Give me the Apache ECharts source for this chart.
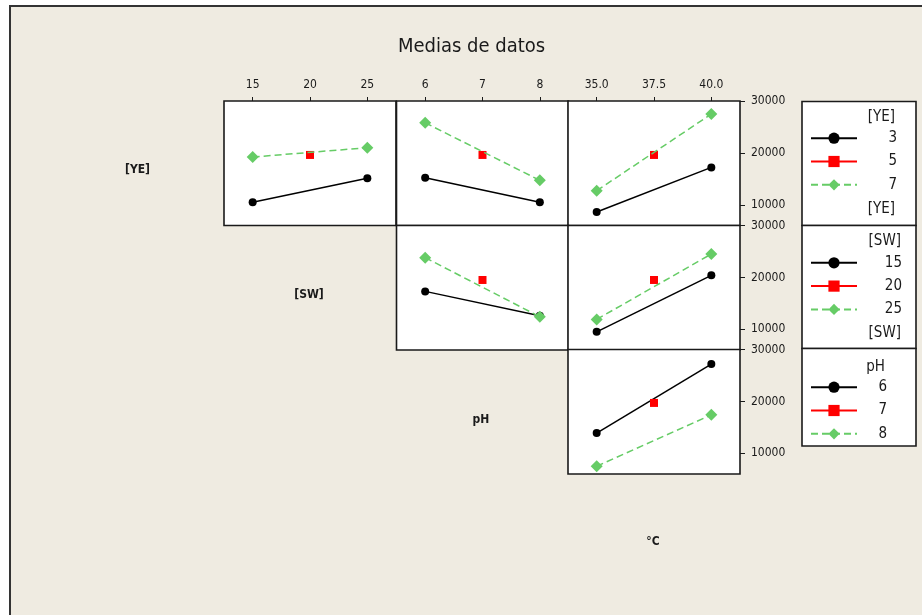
<!DOCTYPE html>
<html>
<head>
<meta charset="utf-8">
<script src="https://cdn.jsdelivr.net/npm/echarts@6/dist/echarts.min.js"></script>
<style>
  html, body { margin: 0; padding: 0; background: #ffffff; }
  #chart { width: 922px; height: 615px; }
</style>
</head>
<body>
<div id="chart"></div>
<script>
// Factor levels (x categories and trace levels)
const swLevels = ['15', '20', '25'];
const phLevels = ['6', '7', '8'];
const tempLevels = ['35.0', '37.5', '40.0'];
const yeLevels = ['3', '5', '7'];
const yTickValues = [10000, 20000, 30000];

// Mean response at low / centre / high of the x factor (null = no run there)
// [YE] traced over [SW]
const yeSw3 = [10500, null, 15100];
const yeSw5 = [null, 19600, null];
const yeSw7 = [19200, null, 21000];
// [YE] traced over pH
const yePh3 = [15200, null, 10500];
const yePh5 = [null, 19600, null];
const yePh7 = [25800, null, 14700];
// [YE] traced over °C
const yeT3 = [8600, null, 17200];
const yeT5 = [null, 19600, null];
const yeT7 = [12700, null, 27500];
// [SW] traced over pH
const swPh15 = [17300, null, 12600];
const swPh20 = [null, 19500, null];
const swPh25 = [23800, null, 12400];
// [SW] traced over °C
const swT15 = [9500, null, 20400];
const swT20 = [null, 19500, null];
const swT25 = [11900, null, 24500];
// pH traced over °C
const phT6 = [13900, null, 27200];
const phT7 = [null, 19700, null];
const phT8 = [7500, null, 17400];

const FONT = 'Tahoma, "DejaVu Sans Condensed", "DejaVu Sans", sans-serif';
const BG = '#efebe1';
const INK = '#1a1a1a';

// low / centre / high trace styles
const traceStyles = [
  { symbol: 'circle', symbolSize: 8, color: '#000000', dash: 'solid' },
  { symbol: 'rect', symbolSize: 8, color: '#ff0000', dash: 'solid' },
  { symbol: 'diamond', symbolSize: 12, color: '#66cc66', dash: [7, 4] }
];

const panels = [
  { row: 0, col: 0, cats: swLevels,   trace: '[YE]', levels: yeLevels, data: [yeSw3, yeSw5, yeSw7] },
  { row: 0, col: 1, cats: phLevels,   trace: '[YE]', levels: yeLevels, data: [yePh3, yePh5, yePh7] },
  { row: 0, col: 2, cats: tempLevels, trace: '[YE]', levels: yeLevels, data: [yeT3, yeT5, yeT7] },
  { row: 1, col: 1, cats: phLevels,   trace: '[SW]', levels: swLevels, data: [swPh15, swPh20, swPh25] },
  { row: 1, col: 2, cats: tempLevels, trace: '[SW]', levels: swLevels, data: [swT15, swT20, swT25] },
  { row: 2, col: 2, cats: tempLevels, trace: 'pH',   levels: phLevels, data: [phT6, phT7, phT8] }
];

const colLeft = [224, 396.5, 568];
const colWidth = 172;
const rowTop = [101, 225.5, 349.5];
const rowHeight = 124.5;

const grids = [], xAxes = [], yAxes = [], series = [];
panels.forEach((p, i) => {
  grids.push({
    left: colLeft[p.col], top: rowTop[p.row], width: colWidth, height: rowHeight,
    show: true, backgroundColor: '#ffffff', borderColor: INK, borderWidth: 1.6
  });
  const topRow = p.row === 0;
  xAxes.push({
    gridIndex: i, type: 'category', data: p.cats, position: 'top', boundaryGap: true,
    axisLine: { show: false },
    axisTick: { show: topRow, alignWithLabel: true, length: 4, lineStyle: { color: INK, width: 1 } },
    axisLabel: { show: topRow, margin: 10, fontSize: 12, color: INK, fontFamily: FONT },
    splitLine: { show: false }
  });
  const rightCol = p.col === 2;
  yAxes.push({
    gridIndex: i, type: 'value', min: 6000, max: 30000, position: 'right',
    axisLine: { show: false },
    axisTick: { show: rightCol, length: 5, customValues: yTickValues, lineStyle: { color: INK, width: 1 } },
    axisLabel: { show: rightCol, customValues: yTickValues, margin: 11, fontSize: 12, color: INK, fontFamily: FONT,
      formatter: v => String(v) },
    splitLine: { show: false }
  });
  p.data.forEach((vals, k) => {
    const s = traceStyles[k];
    series.push({
      type: 'line', name: p.trace + ' ' + p.levels[k],
      xAxisIndex: i, yAxisIndex: i,
      data: vals.map(v => (v === null ? '-' : v)),
      connectNulls: true,
      symbol: s.symbol, symbolSize: s.symbolSize, showSymbol: true,
      itemStyle: { color: s.color },
      lineStyle: { color: s.color, width: 1.5, type: s.dash },
      emphasis: { disabled: true },
      z: 2 + k
    });
  });
});

// legend boxes: trace name, line keys, trace name again
const legendBoxes = [
  { trace: '[YE]', levels: yeLevels, top: 101.5, height: 124, head: 116.7, first: 137.7, foot: 209.3, textRight: 896, titleRight: 895 },
  { trace: '[SW]', levels: swLevels, top: 225.5, height: 123, head: 241, first: 262.3, foot: 332.7, textRight: 901, titleRight: 901 },
  { trace: 'pH',   levels: phLevels, top: 348.5, height: 97.5, head: 366.7, first: 386.7, foot: null, textRight: 886, titleRight: 885 }
];

const legendItemH = 14;
const legendGap = 8.3;
const legends = legendBoxes.map(b => ({
  orient: 'vertical', left: 810, top: b.first - legendItemH / 2,
  itemWidth: 46, itemHeight: legendItemH, itemGap: legendGap, padding: 0,
  selectedMode: false, z: 10,
  lineStyle: { width: 2 },
  data: b.levels.map(l => b.trace + ' ' + l),
  formatter: name => '{v|' + name.split(' ')[1] + '}',
  textStyle: {
    rich: { v: { width: b.textRight - 861, align: 'right', fontSize: 15, fontFamily: FONT, color: INK } }
  }
}));

const labelStyle = { align: 'center', verticalAlign: 'middle', fontSize: 12, fontWeight: 'bold', fontFamily: FONT, fill: INK };
const graphics = [
  // outer frame
  { type: 'rect', z: -100, shape: { x: 10, y: 6, width: 940, height: 640 },
    style: { fill: BG, stroke: '#333333', lineWidth: 2 } },
  // title
  { type: 'text', x: 471.5, y: 47, style: { text: 'Medias de datos', align: 'center', verticalAlign: 'middle', fontSize: 20, fontFamily: FONT, fill: INK } },
  // factor names on the diagonal
  { type: 'text', x: 137.5, y: 170, style: Object.assign({ text: '[YE]' }, labelStyle) },
  { type: 'text', x: 309, y: 295, style: Object.assign({ text: '[SW]' }, labelStyle) },
  { type: 'text', x: 481, y: 420, style: Object.assign({ text: 'pH' }, labelStyle) },
  { type: 'text', x: 653, y: 542, style: Object.assign({ text: '°C' }, labelStyle) }
];
legendBoxes.forEach(b => {
  graphics.push({ type: 'rect', z: 1, shape: { x: 802, y: b.top, width: 114, height: b.height },
    style: { fill: '#ffffff', stroke: INK, lineWidth: 1.6 } });
  graphics.push({ type: 'text', z: 2, x: b.titleRight, y: b.head,
    style: { text: b.trace, align: 'right', verticalAlign: 'middle', fontSize: 15, fontFamily: FONT, fill: INK } });
  if (b.foot !== null) {
    graphics.push({ type: 'text', z: 2, x: b.titleRight, y: b.foot,
      style: { text: b.trace, align: 'right', verticalAlign: 'middle', fontSize: 15, fontFamily: FONT, fill: INK } });
  }
});

const chart = echarts.init(document.getElementById('chart'), null, { renderer: 'canvas' });
chart.setOption({
  animation: false,
  backgroundColor: '#ffffff',
  grid: grids,
  xAxis: xAxes,
  yAxis: yAxes,
  legend: legends,
  series: series,
  graphic: { elements: graphics }
});
</script>
</body>
</html>
